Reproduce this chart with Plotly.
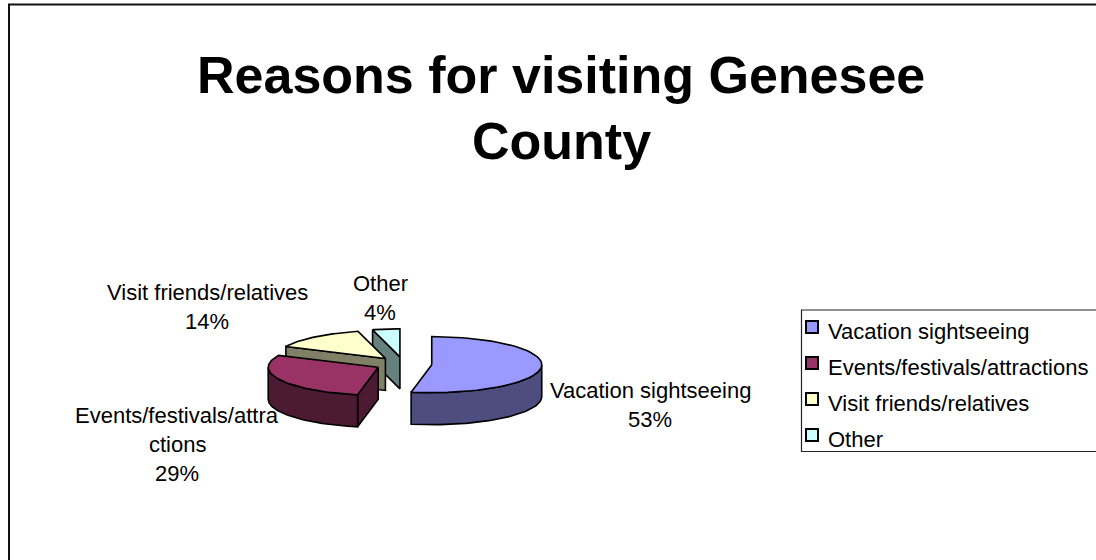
import math
import plotly.graph_objects as go

# ---------------- data ----------------
categories = ["Vacation sightseeing", "Events/festivals/attractions",
              "Visit friends/relatives", "Other"]
shares = [53, 29, 14, 4]
label_name_lines = [["Vacation sightseeing"],
                    ["Events/festivals/attra", "ctions"],
                    ["Visit friends/relatives"],
                    ["Other"]]
title_lines = ["Reasons for visiting Genesee", "County"]

# ---------------- style ----------------
top_colors = ["#9999FF", "#993366", "#FFFFCC", "#CCFFFF"]
side_colors = ["#4D4D80", "#4D1A33", "#808066", "#668080"]
label_centers = [(650, 390), (177, 415), (207, 292), (380, 283)]
LABEL_LINE_GAP = 29
FONT = "Liberation Sans, Arial, sans-serif"
LABEL_SIZE = 22

W, H = 1096, 560
CX, CY = 403.5, 364.0      # pie centre (pixel-like axis units)
RX, RY = 110.0, 28.0       # ellipse radii
DEPTH = 32.0               # pie thickness
EXPLODE = 0.258            # explode distance as fraction of radius

fig = go.Figure()

total = float(sum(shares))
angles = []
acc = 0.0
for v in shares:
    a1 = acc / total * 2 * math.pi
    acc += v
    a2 = acc / total * 2 * math.pi
    angles.append((a1, a2))


def pt(apex, th, r=1.0, dz=0.0):
    return (apex[0] + RX * r * math.sin(th), apex[1] - RY * r * math.cos(th) + dz)


def arc(apex, a, b, dz=0.0, n=60):
    pts = []
    for k in range(n + 1):
        th = a + (b - a) * k / n
        pts.append(pt(apex, th, 1.0, dz))
    return pts


def add_poly(pts, fill):
    xs = [p[0] for p in pts] + [pts[0][0]]
    ys = [p[1] for p in pts] + [pts[0][1]]
    fig.add_trace(go.Scatter(x=xs, y=ys, mode="lines", fill="toself",
                             fillcolor=fill, line=dict(color="black", width=1.6),
                             hoverinfo="skip", showlegend=False))


slices = []
for i, (a1, a2) in enumerate(angles):
    mid = (a1 + a2) / 2
    apex = (CX + EXPLODE * RX * math.sin(mid), CY - EXPLODE * RY * math.cos(mid))
    slices.append((apex[1], i, apex, a1, a2))

# painter's order: back slices first
for _, i, apex, a1, a2 in sorted(slices):
    # radial faces
    for a, normal in ((a1, a1 - math.pi / 2), (a2, a2 + math.pi / 2)):
        if math.cos(normal - math.pi) > 1e-6:
            o = pt(apex, a)
            add_poly([apex, o, (o[0], o[1] + DEPTH), (apex[0], apex[1] + DEPTH)],
                     side_colors[i])
    # outer curved side (front half only)
    s, e = max(a1, math.pi / 2), min(a2, 3 * math.pi / 2)
    if e > s:
        topa = arc(apex, s, e)
        bota = arc(apex, s, e, DEPTH)[::-1]
        add_poly(topa + bota, side_colors[i])
    # top face
    add_poly([apex] + arc(apex, a1, a2), top_colors[i])

annotations = []
# data labels
for i, name_lines in enumerate(label_name_lines):
    lines = name_lines + [f"{shares[i]}%"]
    cx, cy = label_centers[i]
    for j, line in enumerate(lines):
        annotations.append(dict(x=cx, y=cy + j * LABEL_LINE_GAP, text=line,
                                showarrow=False, xanchor="center", yanchor="middle",
                                font=dict(family=FONT, size=LABEL_SIZE, color="black")))

# title
for j, line in enumerate(title_lines):
    annotations.append(dict(x=561, y=75 + j * 66, text=f"<b>{line}</b>",
                            showarrow=False, xanchor="center", yanchor="middle",
                            font=dict(family=FONT, size=52, color="black")))

# legend
LEG_X, LEG_Y0, LEG_DY = 812, 327, 36
fig.add_trace(go.Scatter(
    x=[LEG_X] * len(categories),
    y=[LEG_Y0 + k * LEG_DY for k in range(len(categories))],
    mode="markers",
    marker=dict(symbol="square", size=12, color=top_colors,
                line=dict(color="black", width=2)),
    hoverinfo="skip", showlegend=False))
for k, c in enumerate(categories):
    annotations.append(dict(x=826, y=LEG_Y0 + 4 + k * LEG_DY, text=c, showarrow=False,
                            xanchor="left", yanchor="middle",
                            font=dict(family=FONT, size=LABEL_SIZE, color="black")))

shapes = [
    # chart area border (extends past the visible window)
    dict(type="rect", xref="x", yref="y", x0=9, y0=4.5, x1=W + 50, y1=H + 50,
         line=dict(color="#111111", width=2), layer="below"),
    # legend box
    dict(type="rect", xref="x", yref="y", x0=801.5, y0=310, x1=W + 20, y1=451.5,
         line=dict(color="#222222", width=1.2), layer="below"),
]

fig.update_layout(
    width=W, height=H,
    margin=dict(l=0, r=0, t=0, b=0),
    paper_bgcolor="white", plot_bgcolor="white",
    xaxis=dict(range=[0, W], visible=False, fixedrange=True),
    yaxis=dict(range=[H, 0], visible=False, fixedrange=True),
    annotations=annotations, shapes=shapes,
    showlegend=False,
)

fig.write_html("out.html")
